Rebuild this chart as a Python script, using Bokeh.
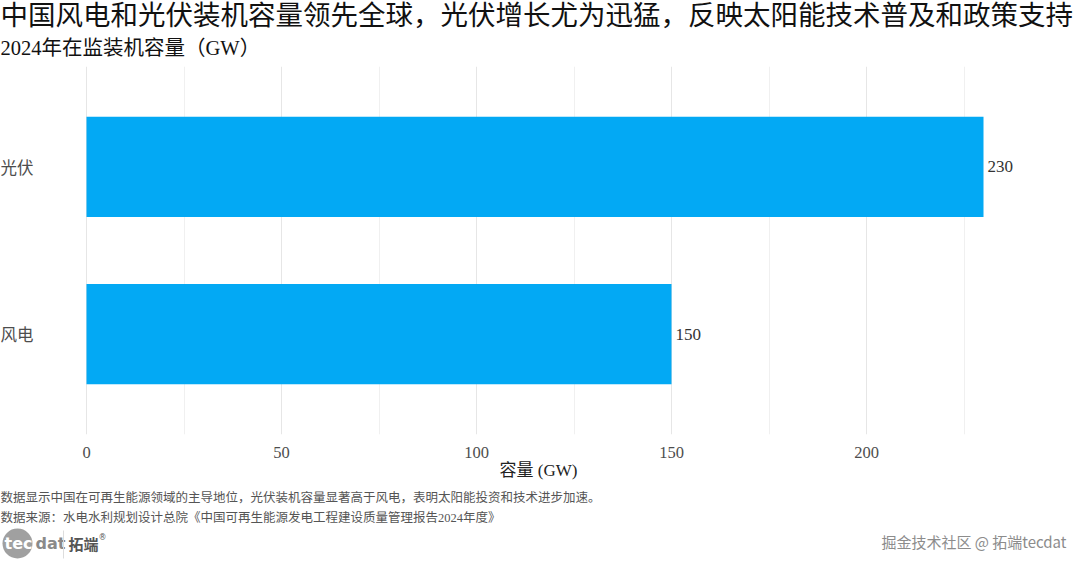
from bokeh.plotting import figure
from bokeh.models import Range1d, FactorRange, FixedTicker, ColumnDataSource
from bokeh.layouts import column
from bokeh.core.properties import value
from bokeh.embed import file_html
from bokeh.resources import INLINE

# ---- data ----
categories = ["风电", "光伏"]
capacity_gw = [150, 230]
major_ticks = [0, 50, 100, 150, 200]
minor_ticks = [25, 75, 125, 175, 225]

title_text = "中国风电和光伏装机容量领先全球，光伏增长尤为迅猛，反映太阳能技术普及和政策支持"
subtitle_text = "2024年在监装机容量（GW）"
x_label = "容量 (GW)"
note_text = "数据显示中国在可再生能源领域的主导地位，光伏装机容量显著高于风电，表明太阳能投资和技术进步加速。"
source_text = "数据来源：水电水利规划设计总院《中国可再生能源发电工程建设质量管理报告2024年度》"
watermark_text = "掘金技术社区 @ 拓端tecdat"

CJK = "'Noto Sans CJK SC'"
MIX = "'Liberation Serif', 'Noto Sans CJK SC'"
BAR = "#03A9F4"
W = 1076
PX_PER_GW = 3.9
ZERO_PX = 86
X_START = -ZERO_PX / PX_PER_GW
X_END = (W - ZERO_PX) / PX_PER_GW


def blank(top, bottom):
    f = figure(width=W, height=bottom - top, x_range=Range1d(0, W),
               y_range=Range1d(bottom, top), output_backend="svg",
               toolbar_location=None, min_border=0)
    f.axis.visible = False
    f.grid.visible = False
    f.outline_line_color = None
    return f


def txt(f, x, y, t, font=MIX, size="12.5px", color="#555555", style="normal",
        align="left", baseline="middle"):
    f.text(x=[x], y=[y], text=[t], text_font=value(font), text_font_size=size,
           text_color=color, text_font_style=style, text_align=align,
           text_baseline=baseline)

# ---- header (page y 0..58) ----
head = blank(0, 58)
txt(head, 0, 15, title_text, size="27.5px", color="#111111")
txt(head, 0, 47, subtitle_text, size="20.5px", color="#111111")

# ---- main chart (page y 58..482) ----
p = figure(width=W, height=424,
           y_range=FactorRange(factors=categories, range_padding=0.1),
           x_range=Range1d(X_START, X_END), output_backend="svg", toolbar_location=None,
           min_border_left=0, min_border_right=0, min_border_top=8, min_border_bottom=47)
p.outline_line_color = None
p.yaxis.visible = False

src = ColumnDataSource(dict(cat=categories, val=capacity_gw, lab=[str(v) for v in capacity_gw]))
p.hbar(y="cat", left=0, right="val", height=0.6, source=src, fill_color=BAR, line_color=None)
p.text(x="val", y="cat", text="lab", source=src, x_offset=4, text_baseline="middle",
       text_align="left", text_font=value("Liberation Serif"), text_font_size="17px",
       text_color="#333333")
# category labels at the left edge
p.text(x=X_START, y="cat", text="cat", source=src, text_baseline="middle", text_align="left",
       text_font=value(CJK), text_font_size="16.5px", text_color="#4d4d4d")

p.xaxis.ticker = FixedTicker(ticks=major_ticks, minor_ticks=minor_ticks)
p.xaxis.axis_line_color = None
p.xaxis.major_tick_line_color = None
p.xaxis.minor_tick_line_color = None
p.xaxis.major_label_text_font = MIX
p.xaxis.major_label_text_font_size = "16.5px"
p.xaxis.major_label_text_color = "#4d4d4d"
p.xaxis.major_label_standoff = 6
p.xaxis.axis_label = x_label
p.xaxis.axis_label_text_font = MIX
p.xaxis.axis_label_text_font_size = "17px"
p.xaxis.axis_label_text_font_style = "normal"
p.xaxis.axis_label_text_color = "#222222"
p.xaxis.axis_label_standoff = 0

p.ygrid.grid_line_color = None
p.xgrid.grid_line_color = "#e6e6e6"
p.xgrid.grid_line_width = 1
p.xgrid.minor_grid_line_color = "#f0f0f0"
p.xgrid.minor_grid_line_width = 1

# ---- footer (page y 482..561) ----
foot = blank(482, 561)
txt(foot, 0, 497, note_text)
txt(foot, 0, 517, source_text)
txt(foot, 1066, 541, watermark_text, font=CJK, size="15px", color="#8c8c8c", align="right")
foot.circle(x=[17], y=[543], radius=15, fill_color="#a0a0a0", line_color=None)
txt(foot, 4, 543, "tec", font="DejaVu Sans", size="16px", color="#ffffff", style="bold")
txt(foot, 35, 543, "dat", font="DejaVu Sans", size="16px", color="#8a8a8a", style="bold")
foot.segment(x0=[63], y0=[530], x1=[63], y1=[558], line_color="#dddddd", line_width=1)
txt(foot, 68, 543, "拓端", font=CJK, size="15px", color="#555555", style="bold")
txt(foot, 98, 537, "®", font="DejaVu Sans", size="8px", color="#555555")

layout = column(head, p, foot, spacing=0)
open("out.html", "w").write(file_html(layout, INLINE))
